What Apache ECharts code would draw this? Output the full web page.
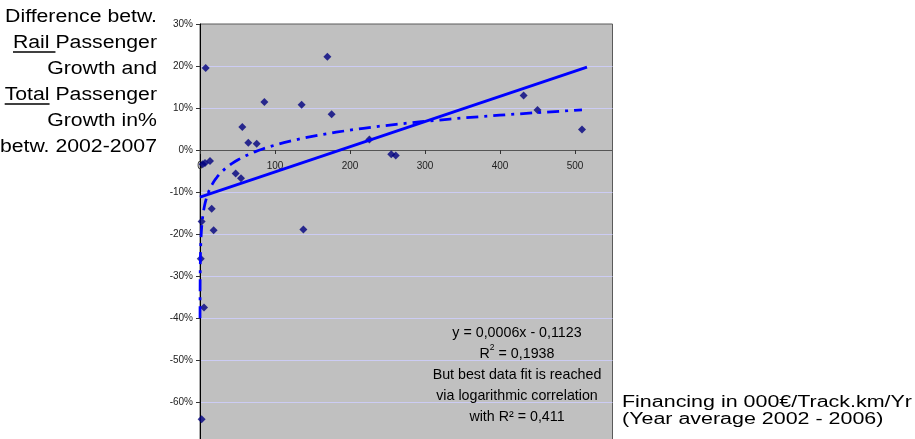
<!DOCTYPE html>
<html>
<head>
<meta charset="utf-8">
<script src="https://cdn.jsdelivr.net/npm/echarts@6/dist/echarts.min.js"></script>
<style>
  html, body { margin: 0; padding: 0; background: #ffffff; }
  #chart { width: 915px; height: 439px; }
</style>
</head>
<body>
<div id="chart"></div>
<script>
// Financing in 000 EUR per track-km and year (average 2002-2006)
const financing = [3.6, 6.7, 13.3, 47.6, 54.7, 64.4, 75.6, 56.4, 15.6, 2.2, 18.2, 1.0, 5.3, 2.2,
                   169.8, 135.5, 175.5, 85.8, 7.6, 137.8, 225.8, 255.0, 261.0, 431.5, 450.0, 509.3];
// Rail passenger growth minus total passenger growth, 2002-2007 (fraction)
const growthGap = [-0.034, -0.031, -0.026, -0.056, -0.067, 0.017, 0.015, 0.055, -0.140, -0.170, -0.191, -0.259, -0.375, -0.641,
                   0.222, 0.108, 0.085, 0.114, 0.195, -0.189, 0.025, -0.010, -0.013, 0.130, 0.095, 0.049];

// Linear trendline as printed in the chart label
const linSlope = 0.0006;
const linIntercept = -0.1123;
const linR2 = 0.1938;
const linRange = [0, 516];

// Logarithmic trendline y = a*ln(x) + b
const logA = 0.0514;
const logB = -0.225;
const logR2 = 0.411;
const logRange = [0.033, 509.3];

// Axis ticks
const xTicks = [0, 100, 200, 300, 400, 500];
const yMin = -0.7, yMax = 0.3, yStep = 0.1;

const titleLines = ['Difference betw.', 'Rail Passenger', 'Growth and', 'Total Passenger', 'Growth in%', 'betw. 2002-2007'];
const titleUnderline = { 1: 'Rail ', 3: 'Total' };
const xNameLines = ['Financing in 000\u20AC/Track.km/Yr', '(Year average 2002 - 2006)'];

const FONT = 'Liberation Sans, Arial, Helvetica, sans-serif';

// plot box
const gridLeft = 200, gridTop = 24, gridW = 412.5, gridH = 420;
// the category axis runs along y = 0, measured up from the bottom edge
const zeroOffset = -gridH * (0 - yMin) / (yMax - yMin);

const points = financing.map((x, i) => [x, growthGap[i]]);
const linLine = linRange.map(x => [x, linSlope * x + linIntercept]);

const logLine = [];
const nLog = 160;
const l0 = Math.log(logRange[0]), l1 = Math.log(logRange[1]);
for (let i = 0; i < nLog; i++) {
  const x = Math.exp(l0 + (l1 - l0) * i / (nLog - 1));
  logLine.push([x, logA * Math.log(x) + logB]);
}

const fmt = (v, d) => Math.abs(v).toFixed(d).replace('.', ',');
const annotation = [
  '{t|y = ' + fmt(linSlope, 4) + 'x ' + (linIntercept < 0 ? '- ' : '+ ') + fmt(linIntercept, 4) + '}',
  '{t|R}{s|2}{t| = ' + fmt(linR2, 4) + '}',
  '{t|But best data fit is reached}',
  '{t|via logarithmic correlation}',
  '{t|with R\u00B2 = ' + fmt(logR2, 3) + '}'
].join('\n');

// text measurement for the underlines in the left-hand caption
const measureCtx = document.createElement('canvas').getContext('2d');
function textWidth(str, size) {
  measureCtx.font = size + 'px ' + FONT;
  return measureCtx.measureText(str).width;
}

const titleSize = 18, titleScale = 1.18, titleRight = 157, titleTop = 17, titleGap = 26;
const graphics = [];
titleLines.forEach((line, i) => {
  const cy = titleTop + titleGap * i;
  graphics.push({
    type: 'text', x: titleRight, y: cy, scaleX: titleScale, silent: true,
    style: { text: line, fontSize: titleSize, fontFamily: FONT, fill: '#000', align: 'right', verticalAlign: 'middle' }
  });
  if (titleUnderline[i]) {
    const full = textWidth(line, titleSize) * titleScale;
    const part = textWidth(titleUnderline[i], titleSize) * titleScale;
    const x1 = titleRight - full;
    graphics.push({
      type: 'line', silent: true,
      shape: { x1: x1, y1: cy + 9, x2: x1 + part, y2: cy + 9 },
      style: { stroke: '#000', lineWidth: 1.5 }
    });
  }
});

const xNameSize = 16, xNameScale = 1.34;
xNameLines.forEach((line, i) => {
  graphics.push({
    type: 'text', x: 622, y: 402.5 + 17.5 * i, scaleX: xNameScale, silent: true,
    style: { text: line, fontSize: xNameSize, fontFamily: FONT, fill: '#000', align: 'left', verticalAlign: 'middle' }
  });
});

graphics.push({
  type: 'text', x: 517, y: 322.5, scaleX: 0.95, silent: true, z: 100,
  style: {
    text: annotation, align: 'center', verticalAlign: 'top', fill: '#000',
    fontFamily: FONT, fontSize: 15,
    rich: {
      t: { fontSize: 15, fontFamily: FONT, lineHeight: 21, fill: '#000' },
      s: { fontSize: 9, fontFamily: FONT, lineHeight: 12, verticalAlign: 'top', fill: '#000' }
    }
  }
});

const chart = echarts.init(document.getElementById('chart'));
chart.setOption({
  animation: false,
  backgroundColor: '#ffffff',
  grid: {
    left: gridLeft, top: gridTop, width: gridW, height: gridH,
    outerBoundsMode: 'none', containLabel: false,
    show: true, backgroundColor: '#C0C0C0', borderColor: '#5a5a5a', borderWidth: 1
  },
  xAxis: {
    type: 'value', min: 0, max: 550, interval: 100,
    position: 'bottom', offset: zeroOffset,
    axisLine: { onZero: false, lineStyle: { color: '#555555', width: 1 } },
    axisTick: { show: true, length: 4, customValues: xTicks, lineStyle: { color: '#333' } },
    axisLabel: { customValues: xTicks, margin: 11, fontSize: 10, fontFamily: FONT, color: '#222' },
    splitLine: { show: false }
  },
  yAxis: {
    type: 'value', min: yMin, max: yMax, interval: yStep,
    axisLine: { show: true, onZero: false, lineStyle: { color: '#000', width: 1 } },
    axisTick: { show: true, length: 4, lineStyle: { color: '#333' } },
    axisLabel: {
      margin: 7, fontSize: 10, fontFamily: FONT, color: '#222',
      formatter: v => Math.round(v * 100) + '%'
    },
    splitLine: { show: true, showMaxLine: false, lineStyle: { color: '#CCCCF4', width: 1 } }
  },
  series: [
    {
      type: 'scatter', data: points, symbol: 'diamond', symbolSize: 8,
      itemStyle: { color: '#000080' }, z: 3
    },
    {
      type: 'line', data: linLine, showSymbol: false, z: 4,
      lineStyle: { color: '#0000FF', width: 2.75 }
    },
    {
      type: 'line', data: logLine, showSymbol: false, z: 4,
      lineStyle: { color: '#0000FF', width: 2.75, type: [12, 6, 3, 6] }
    }
  ],
  graphic: graphics
});
</script>
</body>
</html>
